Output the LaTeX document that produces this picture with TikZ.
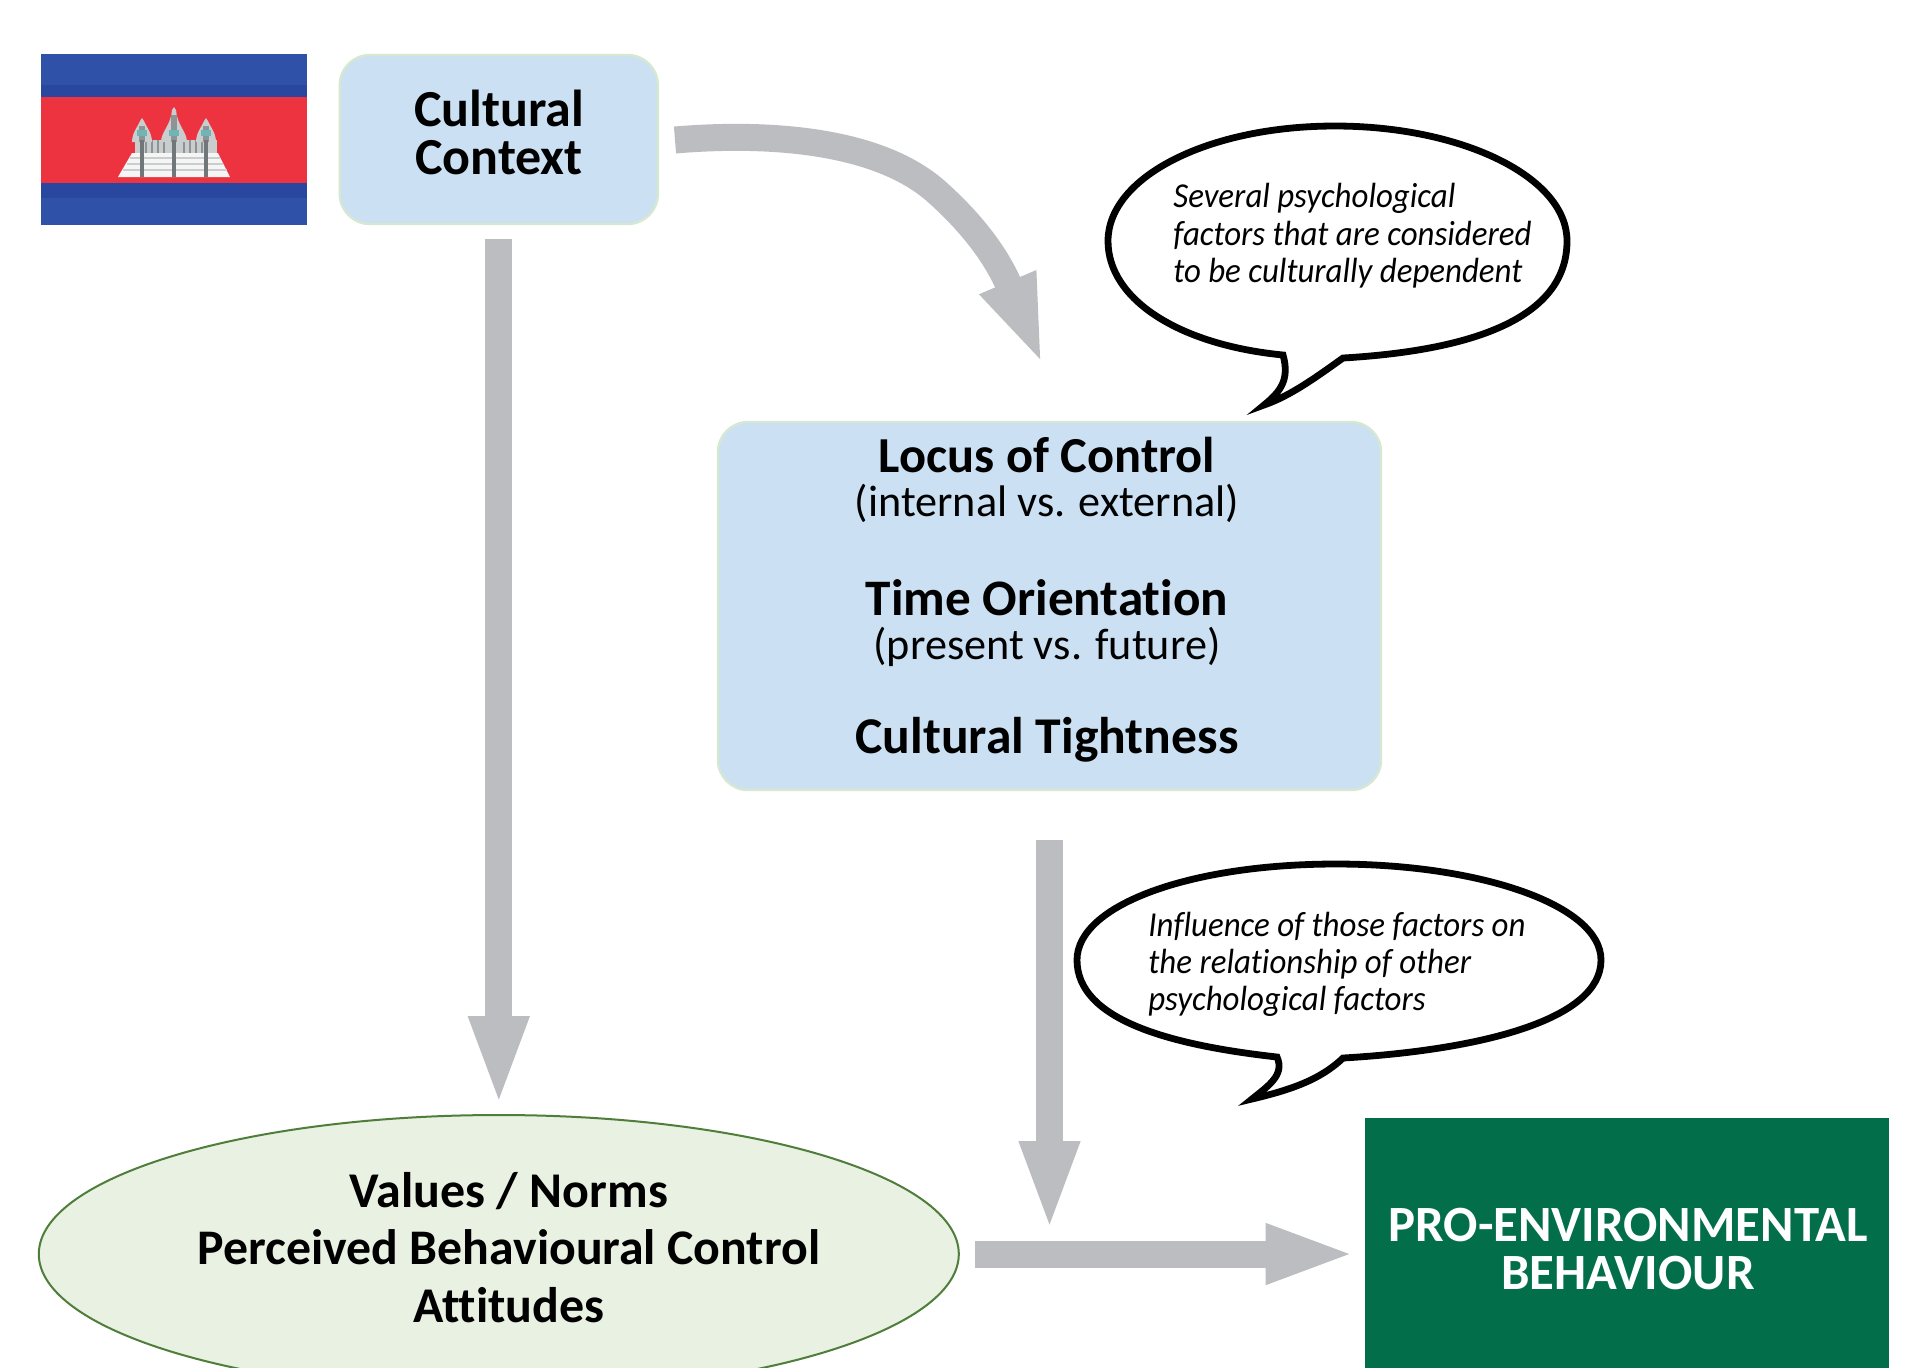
\documentclass[tikz,border=0pt]{standalone}
\usepackage{graphicx}
\usepackage{fontspec}
\setmainfont[Ligatures=CommonOff]{Carlito}
\usetikzlibrary{arrows.meta,shapes.geometric}
\definecolor{boxblue}{HTML}{CBE0F2}
\definecolor{boxedge}{HTML}{D6E8D2}
\definecolor{arrowgrey}{HTML}{BCBDC0}
\definecolor{ellfill}{HTML}{E8F1E2}
\definecolor{elledge}{HTML}{4F7D3A}
\definecolor{proggreen}{HTML}{036F4A}
\definecolor{flagblue}{HTML}{2F52A8}
\definecolor{flagblue2}{HTML}{2A479F}
\definecolor{flagred}{HTML}{EE3340}
\definecolor{tempgrey}{HTML}{8E9496}
\definecolor{templight}{HTML}{C9CDCD}
\definecolor{tempteal}{HTML}{6FB5B5}
\newcommand{\sqz}[1]{\scalebox{.94}[1]{#1}}
\tikzset{
  softbox/.style={draw=boxedge,line width=1.2pt,fill=boxblue,rounded corners=15pt,inner sep=0pt},
  flow/.style={draw=arrowgrey,line width=13.5pt,-{Triangle[length=45.5pt,width=27pt]}},
  bubble/.style={draw=black,line width=3.4pt,fill=white,miter limit=10,line join=miter},
  hd/.style={font=\fontsize{25.4}{26}\selectfont\bfseries,anchor=base,inner sep=0pt},
  sub/.style={font=\fontsize{22.1}{24}\selectfont,anchor=base,inner sep=0pt},
  note/.style={font=\fontsize{17.5}{18}\selectfont\itshape,anchor=base west,inner sep=0pt},
}
\begin{document}
\begin{tikzpicture}[x=0.5pt,y=-0.5pt]
\useasboundingbox (0,0) rectangle (1930,1367);
\clip (0,0) rectangle (1930,1367);
\fill[white] (0,0) rectangle (1930,1367);

% flag
\fill[flagblue] (41,54) rectangle (307,225);
\fill[flagblue2] (41,85) rectangle (307,97);
\fill[flagblue2] (41,183) rectangle (307,198);
\fill[flagred] (41,97) rectangle (307,183);
% temple body
\fill[templight] (135,140) rectangle (217,154);
\foreach \xx in {146,152,158,164,184,190,196,202}
  \draw[tempgrey,line width=0.8pt] (\xx,140) -- (\xx,154);
% towers
\foreach \xx/\yy/\ww in {142/118/10,206/118/10,174/107/13}{
  \fill[templight] (\xx-\ww,142) .. controls (\xx-\ww,132) and (\xx-3,125) .. (\xx-2,\yy+3) -- (\xx,\yy) -- (\xx+2,\yy+3) .. controls (\xx+3,125) and (\xx+\ww,132) .. (\xx+\ww,142) -- cycle;
  \fill[tempgrey] (\xx-3,\yy+8) rectangle (\xx+3,142);
  \fill[tempteal] (\xx-5,130) rectangle (\xx+5,136);
}
% steps
\fill[white!92!gray] (132,153) -- (218,153) -- (230,177) -- (118,177) -- cycle;
\foreach \yy/\xa/\xb in {158/130/220,164/127/223,170/123/227}
  \draw[templight,line width=1pt] (\xa,\yy) -- (\xb,\yy);
\foreach \xx in {142,174,206}
  \draw[tempgrey!80!black,line width=2.4pt] (\xx,140) -- (\xx,177);

% nodes
\node[softbox,minimum width=159pt,minimum height=84.5pt] (cultural) at (498.8,139.5) {};
\node[hd,font=\fontsize{26}{26}\selectfont\bfseries] (culturaltext1) at (499,126) {Cultural};
\node[hd,font=\fontsize{26}{26}\selectfont\bfseries] (culturaltext2) at (499,174) {Context};

\node[softbox,minimum width=331.5pt,minimum height=184pt] (factors) at (1049.5,606) {};
\node[hd,font=\fontsize{25.2}{26}\selectfont\bfseries] (locus) at (1047,472) {Locus of Control};
\node[sub] (locussub) at (1047,516) {(internal vs. external)};
\node[hd,font=\fontsize{25.6}{26}\selectfont\bfseries] (time) at (1047,615) {Time Orientation};
\node[sub] (timesub) at (1047,659) {(present vs. future)};
\node[hd,font=\fontsize{25.8}{26}\selectfont\bfseries] (tight) at (1047,753) {Cultural Tightness};

\node[ellipse,draw=elledge,line width=1pt,fill=ellfill,minimum width=460pt,minimum height=139pt,inner sep=0pt] (norms) at (498.8,1254) {};
\node[hd,font=\fontsize{25}{26}\selectfont\bfseries] (norms1) at (509,1207) {Values / Norms};
\node[hd,font=\fontsize{24.9}{26}\selectfont\bfseries] (norms2) at (509,1264) {Perceived Behavioural Control};
\node[hd,font=\fontsize{25}{26}\selectfont\bfseries] (norms3) at (509,1322) {Attitudes};

\node[fill=proggreen,minimum width=262pt,minimum height=136pt,inner sep=0pt] (behaviour) at (1627,1254) {};
\node[hd,text=white] (pro1) at (1628,1241) {PRO-ENVIRONMENTAL};
\node[hd,text=white] (pro2) at (1628,1289) {BEHAVIOUR};

% connectors
\coordinate (curvestart) at (675,140);
\coordinate (curvebend) at (938,193);
\coordinate (curvetip) at (1043,366);
\coordinate (midtip) at (1049.5,1232);
\draw[flow,shorten <=7pt,shorten >=3.5pt] (cultural.south) -- (norms.north);
\draw[flow] (curvestart) .. controls (770,132) and (880,140) .. (curvebend)
  .. controls (958,211) and (992,245) .. (curvetip);
\draw[flow,shorten <=24.5pt] (factors.south) -- (midtip);
\draw[flow,shorten <=7.5pt,shorten >=4pt] (norms.east) -- (behaviour.west);

% speech bubbles
\draw[bubble] (1283,355) .. controls (1180,345) and (1108,300) .. (1108,241)
  .. controls (1108,177) and (1208,126) .. (1335,126)
  .. controls (1462,126) and (1567,177) .. (1567,241)
  .. controls (1567,315) and (1480,350) .. (1343,358)
  .. controls (1315,378) and (1290,396) .. (1264,405)
  .. controls (1280,392) and (1290,380) .. (1283,355) -- cycle;
\node[note] (note1a) at (1173,207) {\sqz{Several psychological}};
\node[note] (note1b) at (1173,245) {\sqz{factors that are considered}};
\node[note] (note1c) at (1173,282) {\sqz{to be culturally dependent}};

\draw[bubble] (1277,1057) .. controls (1170,1045) and (1077,1020) .. (1077,960)
  .. controls (1077,905) and (1190,864) .. (1336,864)
  .. controls (1480,864) and (1601,905) .. (1601,960)
  .. controls (1601,1020) and (1480,1050) .. (1343,1058)
  .. controls (1320,1080) and (1290,1090) .. (1252,1099)
  .. controls (1268,1086) and (1285,1075) .. (1277,1057) -- cycle;
\node[note] (note2a) at (1148,936) {\sqz{Influence of those factors on}};
\node[note] (note2b) at (1148,973) {\sqz{the relationship of other}};
\node[note] (note2c) at (1148,1010) {\sqz{psychological factors}};
\end{tikzpicture}
\end{document}
